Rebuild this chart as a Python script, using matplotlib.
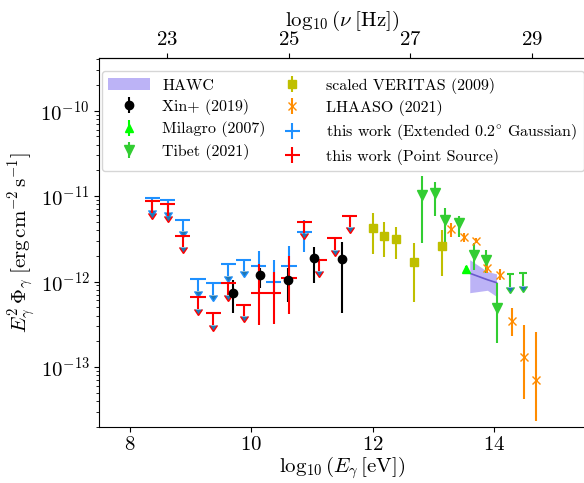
import matplotlib
matplotlib.use('Agg')
import matplotlib.pyplot as plt
import numpy as np

plt.rcParams.update({
    'font.family': 'serif',
    'font.serif': ['cmr10'],
    'mathtext.fontset': 'cm',
    'axes.formatter.use_mathtext': True,
    'font.size': 15,
})

# log10(E/eV) -> log10(nu/Hz)
LOG_E_TO_NU = 14.383

# this work, upper limits in 0.25 dex bins
ul_E = [8.375, 8.625, 8.875, 9.125, 9.375, 9.625, 9.875]
ext_ul = [9.5e-12, 9.0e-12, 5.3e-12, 1.07e-12, 9.6e-13, 1.6e-12, 1.8e-12]
ps_ul_E = [8.375, 8.625, 8.875, 9.125, 9.375, 9.625, 9.875, 10.875, 11.125, 11.375, 11.625]
ps_ul = [8.7e-12, 8.1e-12, 3.45e-12, 6.6e-13, 4.3e-13, 9.6e-13, 5.35e-13,
         5.0e-12, 1.8e-12, 3.2e-12, 5.9e-12]

# this work, detections
ext_E = [10.125, 10.375, 10.625, 10.875]
ext_flux = [1.5e-12, 1.0e-12, 1.5e-12, 3.85e-12]
ext_hi = [2.25e-12, 1.8e-12, 2.6e-12, 5.3e-12]
ext_lo = [1.1e-12, 7.0e-13, 1.0e-12, 2.2e-12]
ps_E = [10.125, 10.375, 10.625]
ps_flux = [7.4e-13, 7.4e-13, 1.1e-12]
ps_hi = [1.6e-12, 1.3e-12, 2.0e-12]
ps_lo = [3.1e-13, 3.2e-13, 4.2e-13]

# Xin+ (2019)
xin_E = [9.70, 10.15, 10.60, 11.03, 11.50]
xin_flux = [7.4e-13, 1.18e-12, 1.05e-12, 1.88e-12, 1.83e-12]
xin_hi = [1.05e-12, 1.44e-12, 1.44e-12, 2.57e-12, 2.94e-12]
xin_lo = [4.3e-13, 8.4e-13, 5.8e-13, 9.6e-13, 4.3e-13]

# scaled VERITAS (2009)
ver_E = [12.00, 12.18, 12.39, 12.69, 13.15]
ver_flux = [4.2e-12, 3.45e-12, 3.13e-12, 1.71e-12, 2.62e-12]
ver_hi = [6.3e-12, 4.96e-12, 4.4e-12, 2.81e-12, 4.03e-12]
ver_lo = [2.09e-12, 1.96e-12, 1.83e-12, 5.8e-13, 1.17e-12]

# Tibet (2021)
tib_E = [12.816, 13.035, 13.20, 13.43, 13.667, 13.86, 14.053]
tib_flux = [1.03e-11, 1.08e-11, 5.27e-12, 4.8e-12, 2.05e-12, 1.79e-12, 4.9e-13]
tib_hi = [1.72e-11, 1.46e-11, 7.3e-12, 5.86e-12, 2.81e-12, 2.35e-12, 9.6e-13]
tib_lo = [2.86e-12, 5.9e-12, 2.86e-12, 3.36e-12, 1.37e-12, 1.25e-12, 1.9e-13]
tib_ul_E = [14.27, 14.475]
tib_ul = [1.22e-12, 1.25e-12]

# Milagro (2007)
mil_E = [13.53]
mil_flux = [1.41e-12]

# LHAASO (2021)
lha_E = [13.294, 13.502, 13.695, 13.888, 14.096, 14.30, 14.49, 14.696]
lha_flux = [4.13e-12, 3.3e-12, 3.02e-12, 1.44e-12, 1.2e-12, 3.47e-13, 1.3e-13, 7.1e-14]
lha_hi = [4.8e-12, 3.74e-12, 3.2e-12, 1.64e-12, 1.4e-12, 4.9e-13, 3.1e-13, 2.6e-13]
lha_lo = [3.3e-12, 2.94e-12, 2.85e-12, 1.25e-12, 1.03e-12, 2.3e-13, 4.2e-14, 2.3e-14]

# HAWC butterfly
hawc_E = [13.60, 13.89, 14.04]
hawc_best = [1.25e-12, 1.05e-12, 9.7e-13]
hawc_hi = [1.8e-12, 1.31e-12, 1.23e-12]
hawc_lo = [7.4e-13, 7.9e-13, 6.7e-13]


def asym(flux, lo, hi):
    flux = np.array(flux)
    return [flux - np.array(lo), np.array(hi) - flux]


def upper_limits(ax, E, flux, color, xerr=0.125, frac=0.27):
    flux = np.array(flux)
    ax.errorbar(E, flux, xerr=xerr, yerr=frac * flux, uplims=True,
                fmt='none', ecolor=color)


fig = plt.figure(figsize=(5.84, 4.83), dpi=100)
ax = fig.add_axes([0.170, 0.1166, 0.832, 0.7627])

hawc = ax.fill_between(hawc_E, hawc_lo, hawc_hi, color='mediumslateblue',
                       alpha=0.5, lw=0, label='HAWC')
ax.plot(hawc_E, hawc_best, color='slateblue', lw=1.2)

xin = ax.errorbar(xin_E, xin_flux, yerr=asym(xin_flux, xin_lo, xin_hi),
                  fmt='o', color='k', label='Xin+ (2019)')
mil = ax.errorbar(mil_E, mil_flux, yerr=[[1e-13], [1e-13]], fmt='^',
                  color='lime', label='Milagro (2007)')
tib = ax.errorbar(tib_E, tib_flux, yerr=asym(tib_flux, tib_lo, tib_hi),
                  fmt='v', color='limegreen', ms=7, label='Tibet (2021)')
upper_limits(ax, tib_ul_E, tib_ul, 'limegreen', xerr=0.06, frac=0.3)
ver = ax.errorbar(ver_E, ver_flux, yerr=asym(ver_flux, ver_lo, ver_hi),
                  fmt='s', color='y', label='scaled VERITAS (2009)')
lha = ax.errorbar(lha_E, lha_flux, yerr=asym(lha_flux, lha_lo, lha_hi),
                  fmt='x', color='darkorange', label='LHAASO (2021)')

upper_limits(ax, ul_E, ext_ul, 'dodgerblue')
ext = ax.errorbar(ext_E, ext_flux, xerr=0.125,
                  yerr=asym(ext_flux, ext_lo, ext_hi), fmt='none',
                  ecolor='dodgerblue',
                  label=r'this work (Extended $0.2^{\circ}$ Gaussian)')
upper_limits(ax, ps_ul_E, ps_ul, 'red')
ps = ax.errorbar(ps_E, ps_flux, xerr=0.125,
                 yerr=asym(ps_flux, ps_lo, ps_hi), fmt='none', ecolor='red',
                 label='this work (Point Source)')

ax.set_yscale('log')
ax.set_xlim(7.5, 15.5)
ax.set_ylim(2e-14, 4.1e-10)
ax.set_xticks([8, 10, 12, 14])
ax.set_xlabel(r'$\log_{10}(E_\gamma\,[\mathrm{eV}])$', labelpad=0)
ax.set_ylabel(r'$E_\gamma^2\,\Phi_\gamma\;[\mathrm{erg\,cm^{-2}\,s^{-1}}]$',
              labelpad=2)

secax = ax.secondary_xaxis('top', functions=(lambda e: e + LOG_E_TO_NU,
                                             lambda n: n - LOG_E_TO_NU))
secax.set_xticks([23, 25, 27, 29])
secax.set_xlabel(r'$\log_{10}(\nu\;[\mathrm{Hz}])$', labelpad=3)

ax.legend([hawc, xin, mil, tib, ver, lha, ext, ps],
          ['HAWC', 'Xin+ (2019)', 'Milagro (2007)', 'Tibet (2021)',
           'scaled VERITAS (2009)', 'LHAASO (2021)',
           r'this work (Extended $0.2^{\circ}$ Gaussian)',
           'this work (Point Source)'],
          ncol=2, loc='upper left', mode='expand', fontsize=11.5,
          bbox_to_anchor=(0.005, 0.5, 0.992, 0.465), borderaxespad=0,
          handlelength=2.6, labelspacing=0.4)

fig.savefig('out.png', dpi=100)
